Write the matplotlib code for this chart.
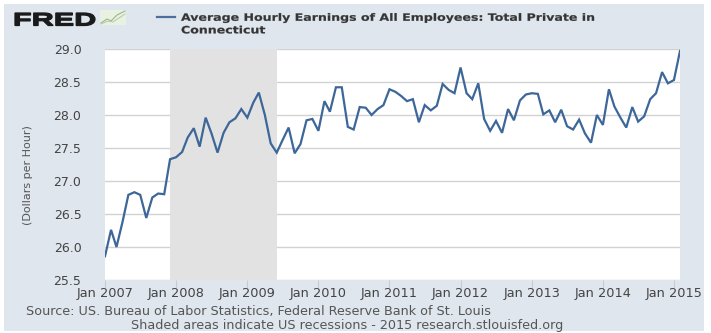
import matplotlib
matplotlib.use("Agg")
import matplotlib.pyplot as plt
from matplotlib.patches import Rectangle, PathPatch
from matplotlib.lines import Line2D
from matplotlib.textpath import TextPath
from matplotlib.font_manager import FontProperties
from matplotlib.transforms import Affine2D
import pandas as pd

# Average Hourly Earnings of All Employees: Total Private in Connecticut (monthly, $/hour)
start_month = "2007-01-01"
earnings = [
    # 2007
    25.86, 26.26, 26.00, 26.38, 26.79, 26.83, 26.79, 26.44, 26.75, 26.81, 26.80, 27.33,
    # 2008
    27.36, 27.44, 27.66, 27.80, 27.52, 27.96, 27.72, 27.43, 27.73, 27.89, 27.95, 28.09,
    # 2009
    27.96, 28.19, 28.34, 28.00, 27.57, 27.43, 27.62, 27.81, 27.42, 27.56, 27.92, 27.94,
    # 2010
    27.76, 28.21, 28.05, 28.42, 28.42, 27.82, 27.78, 28.12, 28.11, 28.00, 28.09, 28.15,
    # 2011
    28.39, 28.35, 28.29, 28.21, 28.24, 27.89, 28.15, 28.07, 28.14, 28.47, 28.38, 28.33,
    # 2012
    28.72, 28.33, 28.24, 28.48, 27.94, 27.76, 27.91, 27.73, 28.09, 27.92, 28.22, 28.31,
    # 2013
    28.33, 28.32, 28.01, 28.07, 27.89, 28.08, 27.83, 27.78, 27.93, 27.72, 27.58, 28.00,
    # 2014
    27.85, 28.39, 28.13, 27.96, 27.81, 28.12, 27.90, 27.98, 28.24, 28.33, 28.65, 28.48,
    # 2015
    28.53, 28.97,
]
recession = ("2007-12-01", "2009-06-01")
y_ticks = [25.5, 26.0, 26.5, 27.0, 27.5, 28.0, 28.5, 29.0]
x_tick_years = list(range(2007, 2016))

title_lines = ["Average Hourly Earnings of All Employees: Total Private in", "Connecticut"]
y_label = "(Dollars per Hour)"
source_note = "Source: US. Bureau of Labor Statistics, Federal Reserve Bank of St. Louis"
shade_note = "Shaded areas indicate US recessions - 2015 research.stlouisfed.org"

dates = pd.date_range(start_month, periods=len(earnings), freq="MS")

W, H = 711, 333
fig = plt.figure(figsize=(W / 100, H / 100), dpi=100, facecolor="white")

def fx(px):
    return px / W

def fy(py):
    return 1 - py / H

def wide_text(x, baseline, text, sx, sy, prop, color, lw=0.0):
    """Draw text as a path in pixel space with independent x/y scaling."""
    tp = TextPath((0, 0), text, size=1, prop=prop)
    tr = Affine2D().scale(sx, sy).translate(x, H - baseline)
    fig.patches.append(PathPatch(tr.transform_path(tp), transform=None,
                                 facecolor=color, edgecolor=color if lw else "none",
                                 lw=lw, zorder=3))

# light panel behind everything
fig.patches.append(Rectangle((fx(4), fy(331)), fx(700), 327 / H,
                             transform=fig.transFigure, facecolor="#dfe6ee",
                             edgecolor="none", zorder=-5))

ax = fig.add_axes([fx(105), fy(280), fx(575), 231 / H])
ax.set_zorder(2)
ax.set_facecolor("white")

ax.axvspan(pd.Timestamp(recession[0]), pd.Timestamp(recession[1]),
           color="#e2e2e2", zorder=1, lw=0)
ax.plot(dates, earnings, color="#3d6699", lw=1.6, zorder=3, solid_joinstyle="miter")

ax.set_xlim(dates[0], dates[-1])
ax.set_ylim(y_ticks[0], y_ticks[-1])
ax.set_yticks(y_ticks)
ax.set_yticklabels([f"{v:.1f}" for v in y_ticks])
ax.yaxis.grid(True, color="#d2d2d2", lw=1.0, zorder=0)
ax.set_axisbelow(True)

xt = [pd.Timestamp(f"{y}-01-01") for y in x_tick_years]
ax.set_xticks(xt)
ax.set_xticklabels([f"Jan {y}" for y in x_tick_years])

for s in ax.spines.values():
    s.set_visible(False)

ax.tick_params(axis="y", length=0, pad=17, labelsize=9, labelcolor="#444444")
ax.tick_params(axis="x", length=6, width=0.8, color="#c8ccd2", pad=-1,
               labelsize=9.3, labelcolor="#444444")

fig.text(fx(28), fy(175), y_label, rotation=90, ha="center", va="center",
         fontsize=8, color="#555555")

# header: FRED wordmark (stretched wide), small chart icon and legend entry
bold_sans = FontProperties(family="Liberation Sans", weight="bold")
logo = TextPath((0, 0), "FRED", size=1, prop=bold_sans)
ext = logo.get_extents()
sx = 80 / ext.width
sy = 12.5 / ext.height
logo_tr = (Affine2D().translate(-ext.x0, -ext.y0).scale(sx, sy)
           .translate(15, H - 25.5))
fig.patches.append(PathPatch(logo_tr.transform_path(logo), transform=None,
                             facecolor="#1a1a1a", edgecolor="#1a1a1a", lw=0.9,
                             zorder=3))
fig.patches.append(Rectangle((fx(100), fy(25)), fx(26), 15 / H, transform=fig.transFigure,
                             facecolor="#eaf0e2", edgecolor="none", zorder=2))
fig.lines.append(Line2D([fx(101), fx(107), fx(111), fx(117), fx(125)],
                        [fy(23), fy(19), fy(21), fy(15), fy(11)],
                        transform=fig.transFigure, color="#9ab88a", lw=0.8, zorder=3))
fig.lines.append(Line2D([fx(101), fx(108), fx(113), fx(119), fx(125)],
                        [fy(24), fy(21), fy(22), fy(18), fy(14)],
                        transform=fig.transFigure, color="#b5c9a8", lw=0.7, zorder=3))

fig.lines.append(Line2D([fx(157), fx(175)], [fy(17), fy(17)], transform=fig.transFigure,
                        color="#4a6f9c", lw=1.6))

# series title in a wide bold face
title_prop = FontProperties(family="DejaVu Sans", weight="bold")
t_ext = TextPath((0, 0), title_lines[0], size=1, prop=title_prop).get_extents()
t_sx = 413 / t_ext.width
t_sy = 7.4 / 0.729
wide_text(181, 20.8, title_lines[0], t_sx, t_sy, title_prop, "#353535", lw=0.15)
wide_text(181, 33.4, title_lines[1], t_sx, t_sy, title_prop, "#353535", lw=0.15)

fig.text(fx(26), fy(312), source_note, fontsize=9.15, color="#555555",
         ha="left", va="center")
fig.text(fx(347), fy(326), shade_note, fontsize=9.15, color="#555555",
         ha="center", va="center")

fig.savefig("out.png", dpi=100, facecolor="white")
